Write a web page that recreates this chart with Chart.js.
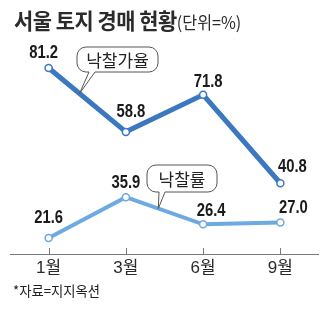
<!DOCTYPE html>
<html>
<head>
<meta charset="utf-8">
<script src="https://cdn.jsdelivr.net/npm/chart.js@4/dist/chart.umd.min.js"></script>
<style>
html,body{margin:0;padding:0;background:#fff;}
#wrap{position:relative;width:329px;height:332px;overflow:hidden;}
#c{position:absolute;left:0;top:0;}
#title{position:absolute;left:14px;top:5px;white-space:nowrap;transform-origin:0 0;transform:scaleX(0.95);color:#2b2b2b;font-family:"Noto Sans CJK KR","Noto Sans",sans-serif;line-height:28px;}
#title b{font-size:22px;font-weight:700;letter-spacing:-0.5px;}
#title span{font-size:17px;font-weight:400;}
#note{position:absolute;left:13px;top:281px;white-space:nowrap;transform-origin:0 0;transform:scaleX(0.95);color:#222;font-family:"Noto Sans CJK KR","Noto Sans",sans-serif;font-size:14px;line-height:18px;}
</style>
</head>
<body>
<div id="wrap">
<canvas id="c" width="329" height="332"></canvas>
<div id="title"><b>서울 토지 경매 현황</b><span>(단위=%)</span></div>
<div id="note">*자료=지지옥션</div>
</div>
<script>
const categories = ["1월", "3월", "6월", "9월"];
const bidPriceRate = [81.2, 58.8, 71.8, 40.8];   // 낙찰가율
const bidSuccessRate = [21.6, 35.9, 26.4, 27.0]; // 낙찰률
const seriesNames = ["낙찰가율", "낙찰률"];

const numFont = '"Liberation Sans","Noto Sans CJK KR",sans-serif';
const krFont = '"Noto Sans CJK KR","Noto Sans",sans-serif';

const labelOffsets = [
  [[-5,-15],[5,-20],[5,-13],[12,-16]],
  [[0,-20],[0,-14],[8,-14],[13,-15]]
];
const callouts = [
  {ds:0, seg:0, t:0.40, box:[77,47,81,25]},
  {ds:1, seg:1, t:0.42, box:[147,165,70,27]}
];

const plugin = {
  id:'extras',
  afterDraw(chart){
    const ctx = chart.ctx;
    const x = chart.scales.x;
    const area = chart.chartArea;
    ctx.save();
    ctx.fillStyle = '#7a7a7a';
    const yb = Math.round(area.bottom);
    ctx.fillRect(Math.round(area.left), yb, Math.round(area.right - area.left), 1);
    categories.forEach((c,i)=>{
      const px = Math.round(x.getPixelForValue(i));
      ctx.fillRect(px, yb-6, 1, 6);
    });
    ctx.restore();
    ctx.save();
    ctx.font = 'bold 19px ' + numFont;
    ctx.fillStyle = '#1a1a1a';
    ctx.textAlign = 'center';
    ctx.textBaseline = 'middle';
    chart.data.datasets.forEach((ds,di)=>{
      const meta = chart.getDatasetMeta(di);
      meta.data.forEach((pt,i)=>{
        const o = labelOffsets[di][i];
        const cx = pt.x + o[0], cy = pt.y + o[1];
        ctx.save();
        ctx.translate(cx, cy);
        ctx.scale(0.78, 1);
        ctx.fillText(ds.data[i].toFixed(1), 0, 0);
        ctx.restore();
      });
    });
    ctx.restore();
    ctx.save();
    callouts.forEach(co=>{
      const meta = chart.getDatasetMeta(co.ds);
      const a = meta.data[co.seg], b = meta.data[co.seg+1];
      const ax = a.x + (b.x-a.x)*co.t, ay = a.y + (b.y-a.y)*co.t;
      const [bx,by,bw,bh] = co.box;
      const r = 9;
      ctx.beginPath();
      ctx.moveTo(bx+r,by);
      ctx.lineTo(bx+bw-r,by);
      ctx.arcTo(bx+bw,by,bx+bw,by+r,r);
      ctx.lineTo(bx+bw,by+bh-r);
      ctx.arcTo(bx+bw,by+bh,bx+bw-r,by+bh,r);
      const t1 = bx+18, t2 = bx+12;
      ctx.lineTo(t1,by+bh);
      ctx.lineTo(ax,ay);
      ctx.lineTo(t2,by+bh);
      ctx.lineTo(bx+r,by+bh);
      ctx.arcTo(bx,by+bh,bx,by+bh-r,r);
      ctx.lineTo(bx,by+r);
      ctx.arcTo(bx,by,bx+r,by,r);
      ctx.closePath();
      ctx.fillStyle = '#fff';
      ctx.fill();
      ctx.strokeStyle = '#555';
      ctx.lineWidth = 1;
      ctx.stroke();
      ctx.fillStyle = '#222';
      ctx.font = '17px ' + krFont;
      ctx.textAlign = 'center';
      ctx.textBaseline = 'middle';
      ctx.fillText(seriesNames[co.ds], bx+bw/2, by+bh/2+1);
    });
    ctx.restore();
  }
};

new Chart(document.getElementById('c'), {
  type:'line',
  data:{
    labels: categories,
    datasets:[
      {label:seriesNames[0], data:bidPriceRate, borderColor:'#3b78c0', borderWidth:5,
       pointRadius:3.5, pointBorderWidth:1.5, pointBackgroundColor:'#fff', pointBorderColor:'#3b78c0', tension:0},
      {label:seriesNames[1], data:bidSuccessRate, borderColor:'#6ea9e0', borderWidth:4,
       pointRadius:3.5, pointBorderWidth:1.5, pointBackgroundColor:'#fff', pointBorderColor:'#6ea9e0', tension:0}
    ]
  },
  options:{
    responsive:false,
    animation:false,
    devicePixelRatio:1,
    layout:{padding:{left:10,right:10,top:40,bottom:49.6}},
    plugins:{legend:{display:false}, tooltip:{enabled:false}},
    scales:{
      x:{
        offset:true,
        grid:{display:false, drawTicks:false},
        border:{display:false},
        ticks:{padding:4, color:'#2a2a2a', font:{size:17, family:numFont}}
      },
      y:{display:false, min:16, max:91}
    }
  },
  plugins:[plugin]
});
</script>
</body>
</html>
